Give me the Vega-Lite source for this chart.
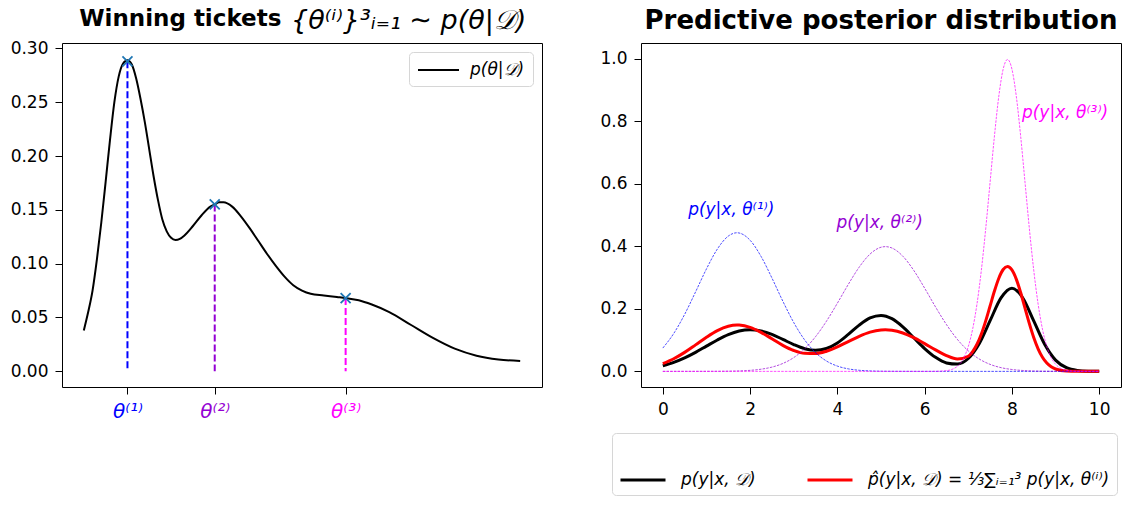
{
  "$schema": "https://vega.github.io/schema/vega-lite/v6.json",
  "padding": {"left": 9, "top": 6, "right": 0, "bottom": 0},
  "spacing": 56,
  "config": {
    "font": "DejaVu Sans",
    "view": {"stroke": "black", "strokeWidth": 1},
    "axis": {"grid": false, "domain": false, "tickColor": "black", "tickSize": 7, "tickWidth": 1, "labelColor": "black", "labelFontSize": 17, "labelPadding": 7, "labelFont": "DejaVu Sans"},
    "title": {"fontWeight": "bold", "color": "black", "font": "DejaVu Sans"}
  },
  "datasets": {
    "post": [
      {"t": 0, "p": 0.038, "s": "post"}, {"t": 0.1, "p": 0.055, "s": "post"}, {"t": 0.2, "p": 0.075, "s": "post"},
      {"t": 0.3, "p": 0.104, "s": "post"}, {"t": 0.4, "p": 0.138, "s": "post"}, {"t": 0.5, "p": 0.176, "s": "post"},
      {"t": 0.6, "p": 0.215, "s": "post"}, {"t": 0.7, "p": 0.25, "s": "post"}, {"t": 0.8, "p": 0.274, "s": "post"},
      {"t": 0.9, "p": 0.286, "s": "post"}, {"t": 1.0, "p": 0.289, "s": "post"}, {"t": 1.1, "p": 0.285, "s": "post"},
      {"t": 1.2, "p": 0.272, "s": "post"}, {"t": 1.3, "p": 0.253, "s": "post"}, {"t": 1.4, "p": 0.231, "s": "post"},
      {"t": 1.5, "p": 0.206, "s": "post"}, {"t": 1.6, "p": 0.181, "s": "post"}, {"t": 1.7, "p": 0.159, "s": "post"},
      {"t": 1.8, "p": 0.141, "s": "post"}, {"t": 1.9, "p": 0.13, "s": "post"}, {"t": 2.0, "p": 0.124, "s": "post"},
      {"t": 2.1, "p": 0.122, "s": "post"}, {"t": 2.2, "p": 0.123, "s": "post"}, {"t": 2.3, "p": 0.126, "s": "post"},
      {"t": 2.5, "p": 0.135, "s": "post"}, {"t": 2.7, "p": 0.145, "s": "post"}, {"t": 2.9, "p": 0.153, "s": "post"},
      {"t": 3.0, "p": 0.155, "s": "post"}, {"t": 3.1, "p": 0.157, "s": "post"}, {"t": 3.2, "p": 0.157, "s": "post"},
      {"t": 3.4, "p": 0.153, "s": "post"}, {"t": 3.6, "p": 0.144, "s": "post"}, {"t": 3.8, "p": 0.133, "s": "post"},
      {"t": 4.0, "p": 0.121, "s": "post"}, {"t": 4.2, "p": 0.109, "s": "post"}, {"t": 4.4, "p": 0.098, "s": "post"},
      {"t": 4.6, "p": 0.088, "s": "post"}, {"t": 4.8, "p": 0.08, "s": "post"}, {"t": 5.0, "p": 0.075, "s": "post"},
      {"t": 5.2, "p": 0.072, "s": "post"}, {"t": 5.5, "p": 0.0705, "s": "post"}, {"t": 5.8, "p": 0.069, "s": "post"},
      {"t": 6.0, "p": 0.068, "s": "post"}, {"t": 6.3, "p": 0.066, "s": "post"}, {"t": 6.6, "p": 0.062, "s": "post"},
      {"t": 7.0, "p": 0.055, "s": "post"}, {"t": 7.5, "p": 0.043, "s": "post"}, {"t": 8.0, "p": 0.031, "s": "post"},
      {"t": 8.5, "p": 0.021, "s": "post"}, {"t": 9.0, "p": 0.0145, "s": "post"}, {"t": 9.5, "p": 0.011, "s": "post"},
      {"t": 10.0, "p": 0.0095, "s": "post"}
    ],
    "tickets": [
      {"t": 1, "p": 0.288, "c": "c1"},
      {"t": 3, "p": 0.155, "c": "c2"},
      {"t": 6, "p": 0.068, "c": "c3"}
    ],
    "ttl": [
      {"t": 4.75, "p": 0.318, "txt": "{θ⁽ⁱ⁾}³ᵢ₌₁ ∼ p(θ|𝒟)"}
    ],
    "ppd": [
      {"x": 0, "y": 0.018, "s": "B"}, {"x": 0.25, "y": 0.0288, "s": "B"}, {"x": 0.5, "y": 0.0432, "s": "B"},
      {"x": 0.75, "y": 0.0609, "s": "B"}, {"x": 1, "y": 0.0807, "s": "B"}, {"x": 1.25, "y": 0.1004, "s": "B"},
      {"x": 1.5, "y": 0.1174, "s": "B"}, {"x": 1.75, "y": 0.1289, "s": "B"}, {"x": 2, "y": 0.133, "s": "B"},
      {"x": 2.25, "y": 0.1291, "s": "B"}, {"x": 2.5, "y": 0.1181, "s": "B"}, {"x": 2.75, "y": 0.1023, "s": "B"},
      {"x": 3, "y": 0.0857, "s": "B"}, {"x": 3.25, "y": 0.0725, "s": "B"}, {"x": 3.5, "y": 0.0672, "s": "B"},
      {"x": 3.75, "y": 0.073, "s": "B"}, {"x": 4, "y": 0.0909, "s": "B"}, {"x": 4.25, "y": 0.1181, "s": "B"},
      {"x": 4.5, "y": 0.1478, "s": "B"}, {"x": 4.75, "y": 0.1707, "s": "B"}, {"x": 5, "y": 0.1788, "s": "B"},
      {"x": 5.25, "y": 0.1684, "s": "B"}, {"x": 5.5, "y": 0.1423, "s": "B"}, {"x": 5.75, "y": 0.1076, "s": "B"},
      {"x": 6, "y": 0.073, "s": "B"}, {"x": 6.25, "y": 0.0448, "s": "B"}, {"x": 6.5, "y": 0.027, "s": "B"},
      {"x": 6.75, "y": 0.0233, "s": "B"}, {"x": 7, "y": 0.0411, "s": "B"}, {"x": 7.25, "y": 0.0883, "s": "B"},
      {"x": 7.5, "y": 0.162, "s": "B"}, {"x": 7.75, "y": 0.2349, "s": "B"}, {"x": 8, "y": 0.266, "s": "B"},
      {"x": 8.25, "y": 0.2347, "s": "B"}, {"x": 8.5, "y": 0.1613, "s": "B"}, {"x": 8.75, "y": 0.0864, "s": "B"},
      {"x": 9, "y": 0.036, "s": "B"}, {"x": 9.25, "y": 0.0117, "s": "B"}, {"x": 9.5, "y": 0.003, "s": "B"},
      {"x": 9.75, "y": 0.0006, "s": "B"}, {"x": 10, "y": 0.0001, "s": "B"},
      {"x": 0, "y": 0.0248, "s": "R"}, {"x": 0.25, "y": 0.0404, "s": "R"}, {"x": 0.5, "y": 0.0607, "s": "R"},
      {"x": 0.75, "y": 0.0847, "s": "R"}, {"x": 1, "y": 0.1092, "s": "R"}, {"x": 1.25, "y": 0.1305, "s": "R"},
      {"x": 1.5, "y": 0.1444, "s": "R"}, {"x": 1.7, "y": 0.1482, "s": "R"}, {"x": 1.75, "y": 0.148, "s": "R"},
      {"x": 2, "y": 0.1409, "s": "R"}, {"x": 2.25, "y": 0.1249, "s": "R"}, {"x": 2.5, "y": 0.1041, "s": "R"},
      {"x": 2.75, "y": 0.0832, "s": "R"}, {"x": 3, "y": 0.0667, "s": "R"}, {"x": 3.25, "y": 0.0576, "s": "R"},
      {"x": 3.5, "y": 0.057, "s": "R"}, {"x": 3.75, "y": 0.0645, "s": "R"}, {"x": 4, "y": 0.0783, "s": "R"},
      {"x": 4.25, "y": 0.0953, "s": "R"}, {"x": 4.5, "y": 0.1122, "s": "R"}, {"x": 4.75, "y": 0.1255, "s": "R"},
      {"x": 5, "y": 0.1325, "s": "R"}, {"x": 5.1, "y": 0.1331, "s": "R"}, {"x": 5.25, "y": 0.1315, "s": "R"},
      {"x": 5.5, "y": 0.1228, "s": "R"}, {"x": 5.75, "y": 0.1077, "s": "R"}, {"x": 6, "y": 0.0887, "s": "R"},
      {"x": 6.25, "y": 0.0687, "s": "R"}, {"x": 6.5, "y": 0.0506, "s": "R"}, {"x": 6.75, "y": 0.0394, "s": "R"},
      {"x": 7, "y": 0.0483, "s": "R"}, {"x": 7.1, "y": 0.063, "s": "R"}, {"x": 7.2, "y": 0.0866, "s": "R"},
      {"x": 7.3, "y": 0.1198, "s": "R"}, {"x": 7.4, "y": 0.1616, "s": "R"}, {"x": 7.5, "y": 0.2091, "s": "R"},
      {"x": 7.6, "y": 0.2568, "s": "R"}, {"x": 7.7, "y": 0.2979, "s": "R"}, {"x": 7.8, "y": 0.3257, "s": "R"},
      {"x": 7.9, "y": 0.3351, "s": "R"}, {"x": 8, "y": 0.3242, "s": "R"}, {"x": 8.1, "y": 0.2949, "s": "R"},
      {"x": 8.2, "y": 0.252, "s": "R"}, {"x": 8.3, "y": 0.2024, "s": "R"}, {"x": 8.4, "y": 0.1528, "s": "R"},
      {"x": 8.5, "y": 0.1084, "s": "R"}, {"x": 8.6, "y": 0.0722, "s": "R"}, {"x": 8.7, "y": 0.0452, "s": "R"},
      {"x": 8.8, "y": 0.0266, "s": "R"}, {"x": 8.9, "y": 0.0147, "s": "R"}, {"x": 9, "y": 0.0076, "s": "R"},
      {"x": 9.25, "y": 0.0011, "s": "R"}, {"x": 9.5, "y": 0.0001, "s": "R"}, {"x": 9.75, "y": 0, "s": "R"},
      {"x": 10, "y": 0, "s": "R"}
    ],
    "comps": [
      {"x": 0, "y": 0.0745, "c": "c1"}, {"x": 0.25, "y": 0.1211, "c": "c1"}, {"x": 0.5, "y": 0.1822, "c": "c1"},
      {"x": 0.75, "y": 0.254, "c": "c1"}, {"x": 1, "y": 0.3276, "c": "c1"}, {"x": 1.25, "y": 0.3912, "c": "c1"},
      {"x": 1.5, "y": 0.4325, "c": "c1"}, {"x": 1.7, "y": 0.4433, "c": "c1"}, {"x": 2, "y": 0.4193, "c": "c1"},
      {"x": 2.25, "y": 0.3678, "c": "c1"}, {"x": 2.5, "y": 0.2987, "c": "c1"}, {"x": 2.75, "y": 0.2245, "c": "c1"},
      {"x": 3, "y": 0.1562, "c": "c1"}, {"x": 3.25, "y": 0.1006, "c": "c1"}, {"x": 3.5, "y": 0.06, "c": "c1"},
      {"x": 3.75, "y": 0.0331, "c": "c1"}, {"x": 4, "y": 0.0169, "c": "c1"}, {"x": 4.25, "y": 0.008, "c": "c1"},
      {"x": 4.5, "y": 0.0035, "c": "c1"}, {"x": 4.75, "y": 0.0014, "c": "c1"}, {"x": 5, "y": 0.0005, "c": "c1"},
      {"x": 5.5, "y": 0.0001, "c": "c1"}, {"x": 6, "y": 0, "c": "c1"}, {"x": 7, "y": 0, "c": "c1"},
      {"x": 8, "y": 0, "c": "c1"}, {"x": 9, "y": 0, "c": "c1"}, {"x": 10, "y": 0, "c": "c1"},
      {"x": 0, "y": 0, "c": "c2"}, {"x": 1, "y": 0.0001, "c": "c2"}, {"x": 1.5, "y": 0.0006, "c": "c2"},
      {"x": 2, "y": 0.0033, "c": "c2"}, {"x": 2.25, "y": 0.0069, "c": "c2"}, {"x": 2.5, "y": 0.0136, "c": "c2"},
      {"x": 2.75, "y": 0.0252, "c": "c2"}, {"x": 3, "y": 0.044, "c": "c2"}, {"x": 3.25, "y": 0.0721, "c": "c2"},
      {"x": 3.5, "y": 0.1109, "c": "c2"}, {"x": 3.75, "y": 0.1604, "c": "c2"}, {"x": 4, "y": 0.2179, "c": "c2"},
      {"x": 4.25, "y": 0.278, "c": "c2"}, {"x": 4.5, "y": 0.3332, "c": "c2"}, {"x": 4.75, "y": 0.3752, "c": "c2"},
      {"x": 5, "y": 0.3969, "c": "c2"}, {"x": 5.1, "y": 0.3989, "c": "c2"}, {"x": 5.25, "y": 0.3945, "c": "c2"},
      {"x": 5.5, "y": 0.3683, "c": "c2"}, {"x": 5.75, "y": 0.323, "c": "c2"}, {"x": 6, "y": 0.2661, "c": "c2"},
      {"x": 6.25, "y": 0.2059, "c": "c2"}, {"x": 6.5, "y": 0.1497, "c": "c2"}, {"x": 6.75, "y": 0.1023, "c": "c2"},
      {"x": 7, "y": 0.0656, "c": "c2"}, {"x": 7.25, "y": 0.0396, "c": "c2"}, {"x": 7.5, "y": 0.0224, "c": "c2"},
      {"x": 7.75, "y": 0.0119, "c": "c2"}, {"x": 8, "y": 0.006, "c": "c2"}, {"x": 8.25, "y": 0.0028, "c": "c2"},
      {"x": 8.5, "y": 0.0012, "c": "c2"}, {"x": 9, "y": 0.0002, "c": "c2"}, {"x": 10, "y": 0, "c": "c2"},
      {"x": 0, "y": 0, "c": "c3"}, {"x": 3, "y": 0, "c": "c3"}, {"x": 6, "y": 0, "c": "c3"},
      {"x": 6.25, "y": 0.0002, "c": "c3"}, {"x": 6.5, "y": 0.0022, "c": "c3"}, {"x": 6.75, "y": 0.016, "c": "c3"},
      {"x": 6.9, "y": 0.0438, "c": "c3"}, {"x": 7, "y": 0.0794, "c": "c3"}, {"x": 7.1, "y": 0.135, "c": "c3"},
      {"x": 7.2, "y": 0.2158, "c": "c3"}, {"x": 7.3, "y": 0.3239, "c": "c3"}, {"x": 7.4, "y": 0.4566, "c": "c3"},
      {"x": 7.5, "y": 0.6049, "c": "c3"}, {"x": 7.6, "y": 0.7528, "c": "c3"}, {"x": 7.7, "y": 0.8802, "c": "c3"},
      {"x": 7.8, "y": 0.9667, "c": "c3"}, {"x": 7.9, "y": 0.9974, "c": "c3"}, {"x": 8, "y": 0.9667, "c": "c3"},
      {"x": 8.1, "y": 0.8802, "c": "c3"}, {"x": 8.2, "y": 0.7528, "c": "c3"}, {"x": 8.3, "y": 0.6049, "c": "c3"},
      {"x": 8.4, "y": 0.4566, "c": "c3"}, {"x": 8.5, "y": 0.3239, "c": "c3"}, {"x": 8.6, "y": 0.2158, "c": "c3"},
      {"x": 8.7, "y": 0.135, "c": "c3"}, {"x": 8.8, "y": 0.0794, "c": "c3"}, {"x": 8.9, "y": 0.0438, "c": "c3"},
      {"x": 9, "y": 0.0227, "c": "c3"}, {"x": 9.25, "y": 0.0034, "c": "c3"}, {"x": 9.5, "y": 0.0003, "c": "c3"},
      {"x": 10, "y": 0, "c": "c3"}
    ],
    "labels": [
      {"x": 0.58, "y": 0.515, "c": "c1", "txt": "p(y|x, θ⁽¹⁾)"},
      {"x": 3.98, "y": 0.473, "c": "c2", "txt": "p(y|x, θ⁽²⁾)"},
      {"x": 8.23, "y": 0.827, "c": "c3", "txt": "p(y|x, θ⁽³⁾)"}
    ]
  },
  "hconcat": [
    {
      "width": 480,
      "height": 344,
      "title": {"text": "Winning tickets", "anchor": "start", "dx": 69, "dy": 32, "fontSize": 23, "offset": 8},
      "resolve": {"scale": {"color": "independent"}},
      "layer": [
        {
          "data": {"name": "post"},
          "mark": {"type": "line", "interpolate": "monotone", "strokeWidth": 2},
          "encoding": {
            "x": {"field": "t", "type": "quantitative", "scale": {"domain": [-0.5, 10.5], "nice": false, "zero": false},
                  "axis": {"title": null, "values": [1, 3, 6], "labelFontSize": 20, "labelFontStyle": "italic",
                           "labelExpr": "datum.value == 1 ? 'θ⁽¹⁾' : datum.value == 3 ? 'θ⁽²⁾' : 'θ⁽³⁾'",
                           "labelColor": {"expr": "datum.value == 1 ? 'blue' : datum.value == 3 ? 'darkviolet' : 'magenta'"}}},
            "y": {"field": "p", "type": "quantitative", "scale": {"domain": [-0.0146, 0.305], "nice": false, "zero": false},
                  "axis": {"title": null, "values": [0, 0.05, 0.1, 0.15, 0.2, 0.25, 0.3], "format": ".2f"}},
            "color": {"field": "s", "type": "nominal", "scale": {"domain": ["post"], "range": ["black"]},
                      "legend": {"title": null, "orient": "top-right", "offset": 9, "symbolType": "M-1,0L3.556,0", "symbolSize": 324,
                                 "symbolStrokeWidth": 2, "labelFontSize": 17, "labelFontStyle": "italic", "labelOffset": 33,
                                 "padding": 8, "strokeColor": "#d6d6d6", "fillColor": "white", "cornerRadius": 4,
                                 "labelExpr": "'p(θ|𝒟)'", "labelColor": "black"}}
          }
        },
        {
          "data": {"name": "tickets"},
          "mark": {"type": "rule", "strokeWidth": 2, "strokeDash": [7, 3]},
          "encoding": {
            "x": {"field": "t", "type": "quantitative"},
            "y": {"field": "p", "type": "quantitative"},
            "y2": {"datum": 0},
            "color": {"field": "c", "type": "nominal", "scale": {"domain": ["c1", "c2", "c3"], "range": ["blue", "darkviolet", "magenta"]}, "legend": null}
          }
        },
        {
          "data": {"name": "tickets"},
          "mark": {"type": "point", "shape": "M-1,-1L1,1M-1,1L1,-1", "filled": false, "stroke": "#1f77b4", "strokeWidth": 1.8, "size": 100, "opacity": 1},
          "encoding": {
            "x": {"field": "t", "type": "quantitative"},
            "y": {"field": "p", "type": "quantitative"}
          }
        },
        {
          "data": {"name": "ttl"},
          "mark": {"type": "text", "align": "left", "baseline": "alphabetic", "fontSize": 27, "fontStyle": "italic", "color": "black"},
          "encoding": {
            "x": {"field": "t", "type": "quantitative"},
            "y": {"field": "p", "type": "quantitative"},
            "text": {"field": "txt"}
          }
        }
      ]
    },
    {
      "width": 480,
      "height": 344,
      "title": {"text": "Predictive posterior distribution", "fontSize": 26, "offset": 9},
      "resolve": {"scale": {"color": "independent"}},
      "layer": [
        {
          "data": {"name": "ppd"},
          "mark": {"type": "line", "interpolate": "monotone", "strokeWidth": 3},
          "encoding": {
            "x": {"field": "x", "type": "quantitative", "scale": {"domain": [-0.5, 10.5], "nice": false, "zero": false},
                  "axis": {"title": null, "values": [0, 2, 4, 6, 8, 10]}},
            "y": {"field": "y", "type": "quantitative", "scale": {"domain": [-0.05, 1.05], "nice": false, "zero": false},
                  "axis": {"title": null, "values": [0, 0.2, 0.4, 0.6, 0.8, 1.0], "format": ".1f"}},
            "color": {"field": "s", "type": "nominal", "scale": {"domain": ["B", "R"], "range": ["black", "red"]},
                      "legend": {"title": " ", "titleFontSize": 10, "titlePadding": 6, "orient": "none", "legendX": -29, "legendY": 390, "direction": "horizontal",
                                 "symbolType": "stroke", "symbolSize": 2025, "symbolStrokeWidth": 3,
                                 "labelFontSize": 17, "labelFontStyle": "italic", "labelOffset": 14, "columnPadding": 45,
                                 "padding": 7, "strokeColor": "#d6d6d6", "fillColor": "white", "cornerRadius": 4, "labelLimit": 400,
                                 "labelColor": "black",
                                 "labelExpr": "datum.label == 'B' ? 'p(y|x, 𝒟)' : 'p̂(y|x, 𝒟) = ⅓∑ᵢ₌₁³ p(y|x, θ⁽ⁱ⁾)'"}}
          }
        },
        {
          "data": {"name": "comps"},
          "mark": {"type": "line", "interpolate": "monotone", "strokeWidth": 0.7, "strokeDash": [2.5, 1.2]},
          "encoding": {
            "x": {"field": "x", "type": "quantitative"},
            "y": {"field": "y", "type": "quantitative"},
            "color": {"field": "c", "type": "nominal", "scale": {"domain": ["c1", "c2", "c3"], "range": ["blue", "darkviolet", "magenta"]}, "legend": null}
          }
        },
        {
          "data": {"name": "labels"},
          "mark": {"type": "text", "align": "left", "baseline": "middle", "fontSize": 17, "fontStyle": "italic"},
          "encoding": {
            "x": {"field": "x", "type": "quantitative"},
            "y": {"field": "y", "type": "quantitative"},
            "text": {"field": "txt"},
            "color": {"field": "c", "type": "nominal", "scale": {"domain": ["c1", "c2", "c3"], "range": ["blue", "darkviolet", "magenta"]}, "legend": null}
          }
        }
      ]
    }
  ]
}
